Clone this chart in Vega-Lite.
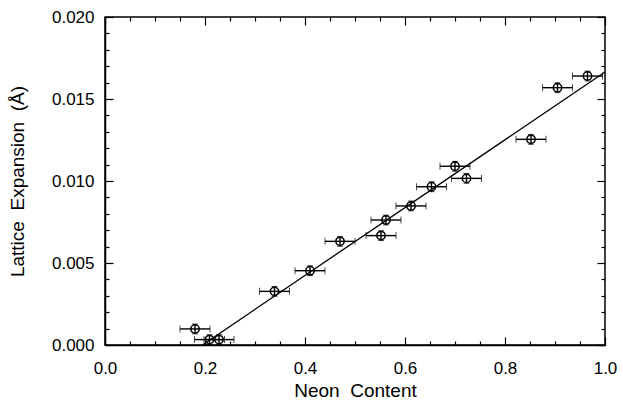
{
  "$schema": "https://vega.github.io/schema/vega-lite/v6.json",
  "width": 500,
  "height": 328,
  "autosize": {"type": "none"},
  "padding": {"left": 105, "top": 17, "right": 18, "bottom": 56},
  "background": "white",
  "config": {
    "view": {"stroke": "black", "strokeWidth": 1.5},
    "font": "Liberation Sans",
    "axis": {"domainColor": "black", "domainWidth": 1.5, "tickColor": "black", "tickWidth": 1.2, "labelColor": "black", "titleColor": "black", "labelFont": "Liberation Sans", "titleFont": "Liberation Sans", "labelFontSize": 17, "titleFontSize": 19, "titleFontWeight": "normal", "grid": false, "labelOverlap": false, "labelFlush": false}
  },
  "datasets": {
    "pts": [
      {"neon": 0.18, "lat": 0.00098, "xe": 0.03, "ye": 0.0003},
      {"neon": 0.209, "lat": 0.00033, "xe": 0.03, "ye": 0.0003},
      {"neon": 0.228, "lat": 0.00033, "xe": 0.03, "ye": 0.0003},
      {"neon": 0.339, "lat": 0.00327, "xe": 0.03, "ye": 0.0003},
      {"neon": 0.41, "lat": 0.00453, "xe": 0.03, "ye": 0.0003},
      {"neon": 0.47, "lat": 0.00632, "xe": 0.03, "ye": 0.0003},
      {"neon": 0.552, "lat": 0.00667, "xe": 0.03, "ye": 0.0003},
      {"neon": 0.562, "lat": 0.00762, "xe": 0.03, "ye": 0.0003},
      {"neon": 0.612, "lat": 0.00848, "xe": 0.03, "ye": 0.0003},
      {"neon": 0.653, "lat": 0.00965, "xe": 0.03, "ye": 0.0003},
      {"neon": 0.70, "lat": 0.0109, "xe": 0.03, "ye": 0.0003},
      {"neon": 0.723, "lat": 0.01016, "xe": 0.03, "ye": 0.0003},
      {"neon": 0.852, "lat": 0.01254, "xe": 0.03, "ye": 0.0003},
      {"neon": 0.905, "lat": 0.01569, "xe": 0.03, "ye": 0.0003},
      {"neon": 0.965, "lat": 0.0164, "xe": 0.03, "ye": 0.0003}
    ],
    "fit": [
      {"neon": 0.195, "lat": 0.0},
      {"neon": 1.0, "lat": 0.01665}
    ]
  },
  "layer": [
    {
      "data": {"name": "fit"},
      "mark": {"type": "line", "color": "black", "strokeWidth": 1.3, "clip": true},
      "encoding": {
        "x": {"field": "neon", "type": "quantitative", "scale": {"domain": [0, 1], "nice": false, "zero": false},
          "axis": {"orient": "bottom", "title": "Neon\u00a0\u00a0Content", "titlePadding": 1,
            "values": [0,0.05,0.1,0.15,0.2,0.25,0.3,0.35,0.4,0.45,0.5,0.55,0.6,0.65,0.7,0.75,0.8,0.85,0.9,0.95,1.0],
            "labelExpr": "abs(datum.value*5 - round(datum.value*5)) < 1e-6 ? format(datum.value, '.1f') : ''",
            "tickSize": {"condition": {"test": "abs(datum.value*5 - round(datum.value*5)) < 1e-6", "value": -8}, "value": -4},
            "labelPadding": 23}},
        "y": {"field": "lat", "type": "quantitative", "scale": {"domain": [0, 0.02], "nice": false, "zero": false},
          "axis": {"orient": "left", "title": "Lattice\u00a0\u00a0Expansion\u00a0\u00a0(Å)", "titlePadding": 24,
            "values": [0,0.001,0.002,0.003,0.004,0.005,0.006,0.007,0.008,0.009,0.01,0.011,0.012,0.013,0.014,0.015,0.016,0.017,0.018,0.019,0.02],
            "labelExpr": "abs(datum.value*200 - round(datum.value*200)) < 1e-6 ? format(datum.value, '.3f') : ''",
            "tickSize": {"condition": {"test": "abs(datum.value*200 - round(datum.value*200)) < 1e-6", "value": -8}, "value": -4},
            "labelPadding": 19}}
      }
    },
    {
      "data": {"name": "pts"},
      "mark": {"type": "errorbar", "ticks": {"size": 7, "color": "black", "strokeWidth": 1.4}, "rule": {"color": "black", "strokeWidth": 1.4}},
      "encoding": {
        "x": {"field": "neon", "type": "quantitative", "axis": {"orient": "top", "labels": false, "title": null, "domain": false,
            "values": [0,0.05,0.1,0.15,0.2,0.25,0.3,0.35,0.4,0.45,0.5,0.55,0.6,0.65,0.7,0.75,0.8,0.85,0.9,0.95,1.0],
            "tickSize": {"condition": {"test": "abs(datum.value*5 - round(datum.value*5)) < 1e-6", "value": -8}, "value": -4}}},
        "xError": {"field": "xe"},
        "y": {"field": "lat", "type": "quantitative", "axis": {"orient": "right", "labels": false, "title": null, "domain": false,
            "values": [0,0.001,0.002,0.003,0.004,0.005,0.006,0.007,0.008,0.009,0.01,0.011,0.012,0.013,0.014,0.015,0.016,0.017,0.018,0.019,0.02],
            "tickSize": {"condition": {"test": "abs(datum.value*200 - round(datum.value*200)) < 1e-6", "value": -8}, "value": -4}}}
      }
    },
    {
      "data": {"name": "pts"},
      "mark": {"type": "errorbar", "ticks": {"size": 6, "color": "black", "strokeWidth": 1.4}, "rule": {"color": "black", "strokeWidth": 1.4}},
      "encoding": {
        "y": {"field": "lat", "type": "quantitative", "axis": null},
        "yError": {"field": "ye"},
        "x": {"field": "neon", "type": "quantitative", "axis": null}
      }
    },
    {
      "data": {"name": "pts"},
      "mark": {"type": "point", "shape": "circle", "filled": false, "size": 70, "stroke": "black", "strokeWidth": 1.5, "opacity": 1},
      "encoding": {
        "x": {"field": "neon", "type": "quantitative", "axis": null},
        "y": {"field": "lat", "type": "quantitative", "axis": null}
      }
    }
  ],
  "resolve": {"axis": {"x": "independent", "y": "independent"}}
}
